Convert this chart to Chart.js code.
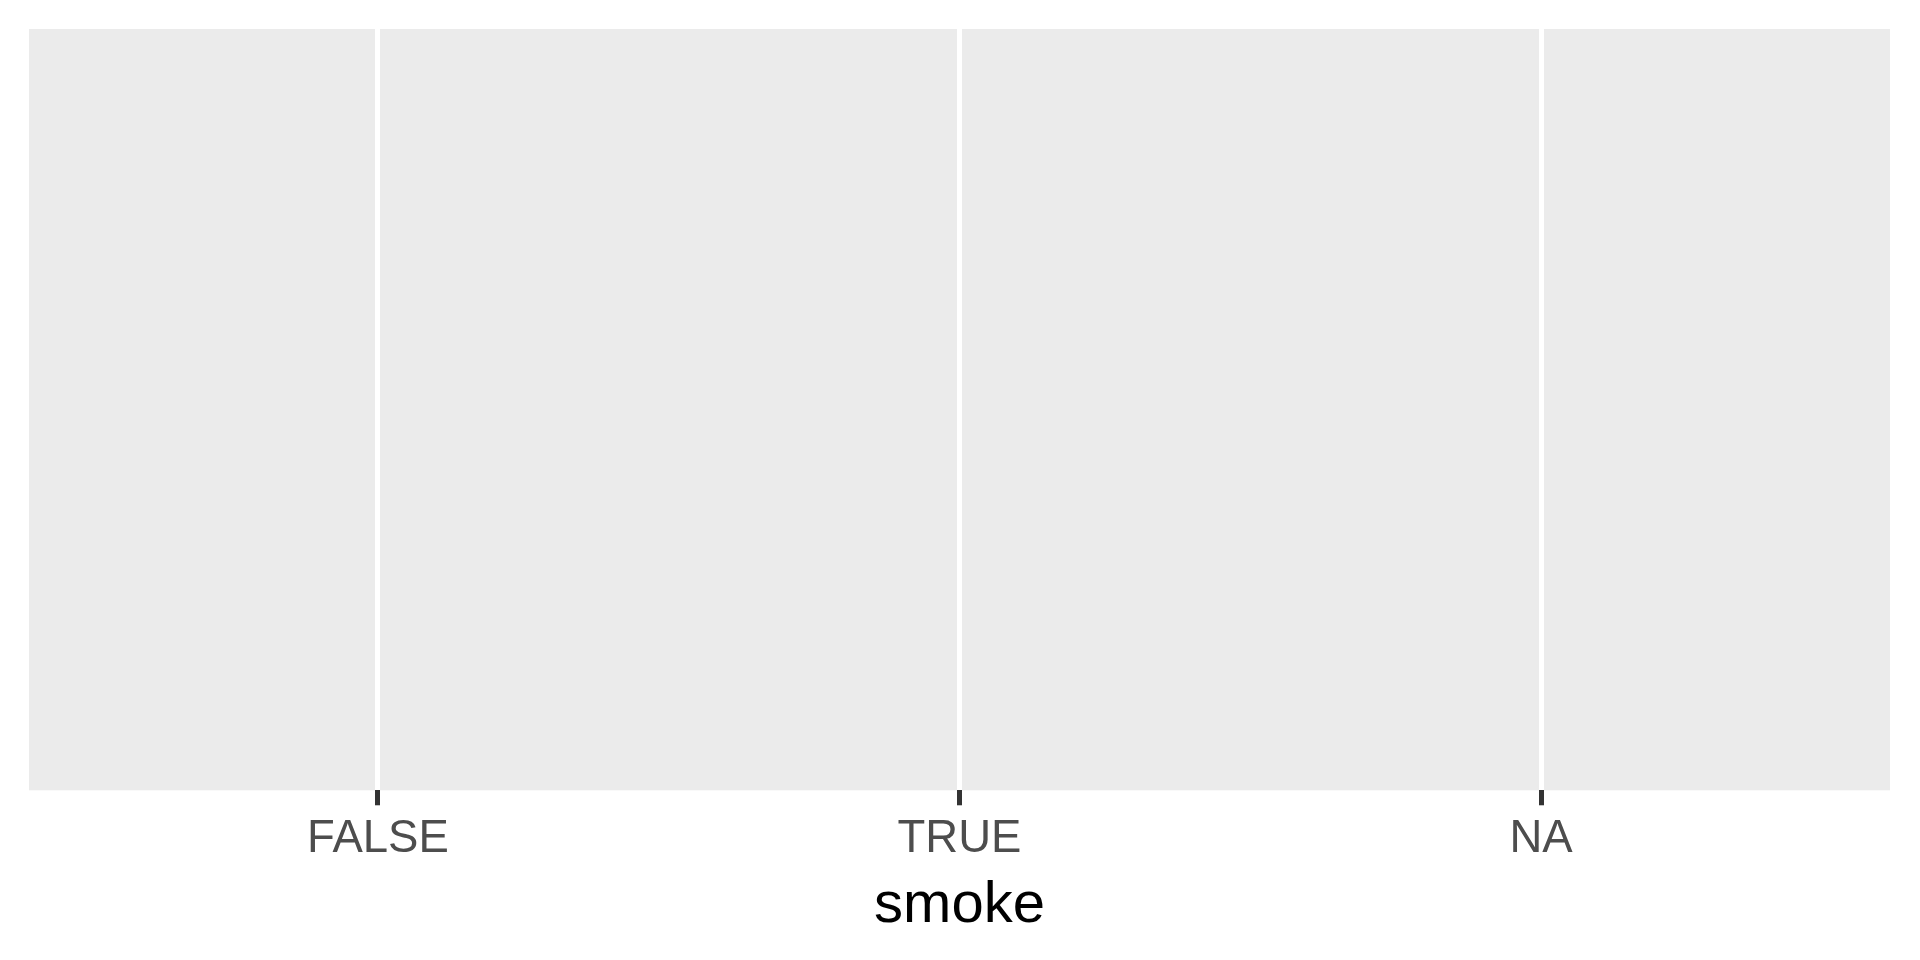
<!DOCTYPE html>
<html>
<head>
<meta charset="utf-8">
<script src="https://cdn.jsdelivr.net/npm/chart.js@4/dist/chart.umd.min.js"></script>
<style>
  html, body { margin: 0; padding: 0; background: #ffffff; }
  #wrap { width: 1920px; height: 960px; }
</style>
</head>
<body>
<div id="wrap"><canvas id="c" width="1920" height="960"></canvas></div>
<script>
const categories = ["FALSE", "TRUE", "NA"];
const tickPositions = [1, 2, 3];
const xTitle = "smoke";

const panelBg = {
  id: 'panelBg',
  beforeDraw(chart) {
    const { ctx, chartArea } = chart;
    ctx.save();
    ctx.fillStyle = '#ffffff';
    ctx.fillRect(0, 0, chart.width, chart.height);
    ctx.fillStyle = '#EBEBEB';
    ctx.fillRect(chartArea.left, chartArea.top, chartArea.right - chartArea.left, chartArea.bottom - chartArea.top);
    ctx.restore();
  }
};

new Chart(document.getElementById('c'), {
  type: 'scatter',
  data: { datasets: [{ data: [] }] },
  plugins: [panelBg],
  options: {
    responsive: false,
    devicePixelRatio: 1,
    animation: false,
    layout: { padding: { left: 29, right: 30, top: 29, bottom: 0 } },
    plugins: { legend: { display: false }, tooltip: { enabled: false } },
    scales: {
      x: {
        type: 'linear',
        min: 0.4,
        max: tickPositions.length + 0.6,
        afterBuildTicks(scale) { scale.ticks = tickPositions.map(v => ({ value: v })); },
        border: { display: false },
        grid: { color: '#ffffff', lineWidth: 5, tickColor: '#333333', tickWidth: 5, tickLength: 15, drawTicks: true },
        ticks: {
          padding: 7,
          maxRotation: 0,
          autoSkip: false,
          color: '#4D4D4D',
          font: { family: "'Liberation Sans', Arial, sans-serif", size: 45.5 },
          callback: (v) => categories[Math.round(v) - 1] ?? ''
        },
        title: {
          display: true,
          text: xTitle,
          color: '#000000',
          font: { family: "'Liberation Sans', Arial, sans-serif", size: 58, lineHeight: 1.114 },
          padding: { top: 0, bottom: 21.5 }
        }
      },
      y: { display: false, min: 0, max: 1 }
    }
  }
});
</script>
</body>
</html>
